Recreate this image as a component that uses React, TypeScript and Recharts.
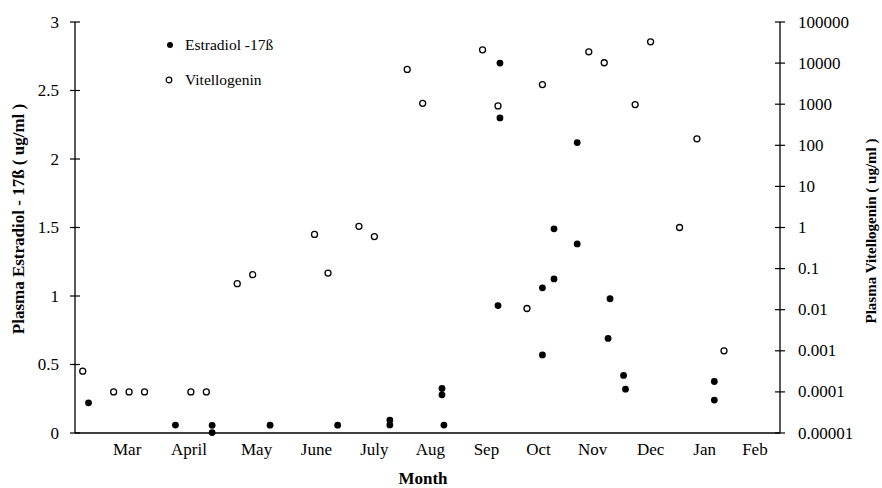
import { Legend, Scatter, ScatterChart, XAxis, YAxis } from 'recharts';

const serif = '"Liberation Serif", "Times New Roman", serif';

// month labels sit at hand-placed positions along the day axis
const monthLabels = ['Mar', 'April', 'May', 'June', 'July', 'Aug', 'Sep', 'Oct', 'Nov', 'Dec', 'Jan', 'Feb'];
const monthTickDays = [27, 59, 94, 125, 155, 184, 213, 240, 268, 298, 326, 352];

const estradiolTicks = [0, 0.5, 1, 1.5, 2, 2.5, 3];
const vitellogeninTicks = [0.00001, 0.0001, 0.001, 0.01, 0.1, 1, 10, 100, 1000, 10000, 100000];

const estradiolDays = [7, 52, 71, 71, 101, 136, 163, 163, 190, 190, 191, 219, 220, 220, 242, 242, 248, 248, 260, 260, 277, 276, 284, 285, 331, 331];
const estradiolValues = [0.22, 0.058, 0.056, 0.003, 0.057, 0.057, 0.094, 0.059, 0.325, 0.279, 0.058, 0.93, 2.7, 2.3, 0.57, 1.06, 1.125, 1.49, 1.38, 2.12, 0.98, 0.69, 0.42, 0.32, 0.376, 0.24];

const vitellogeninDays = [4, 20, 28, 36, 60, 68, 84, 92, 124, 131, 147, 155, 172, 180, 211, 219, 234, 242, 266, 274, 290, 298, 313, 322, 336];
const vitellogeninValues = [0.00032, 0.0001, 0.0001, 0.0001, 0.0001, 0.0001, 0.043, 0.071, 0.68, 0.078, 1.07, 0.6, 7000, 1050, 21000, 910, 0.0107, 3000, 18800, 10200, 980, 33000, 1.0, 144, 0.001];

const estradiol = estradiolDays.map((day, i) => ({ day, value: estradiolValues[i] }));
const vitellogenin = vitellogeninDays.map((day, i) => ({ day, value: vitellogeninValues[i] }));

const LeftTick = ({ x, y, payload }: any) => (
  <g>
    <line x1={x + 11} x2={x + 21} y1={y} y2={y} stroke="#000" strokeWidth={1.2} />
    <text x={x} y={y} textAnchor="end" dominantBaseline="central" fontFamily={serif} fontSize={17} fill="#000">
      {payload.value}
    </text>
  </g>
);

const RightTick = ({ x, y, payload }: any) => (
  <g>
    <line x1={x - 23} x2={x - 13} y1={y} y2={y} stroke="#000" strokeWidth={1.2} />
    <text x={x} y={y} textAnchor="start" dominantBaseline="central" fontFamily={serif} fontSize={17} fill="#000">
      {String(payload.value)}
    </text>
  </g>
);

const FilledDot = ({ cx, cy }: any) => <circle cx={cx} cy={cy} r={3.4} fill="#000" />;
const OpenDot = ({ cx, cy }: any) => <circle cx={cx} cy={cy} r={3} fill="#fff" stroke="#000" strokeWidth={1.3} />;

const legendRow: React.CSSProperties = {
  display: 'flex',
  alignItems: 'center',
  height: 20,
  fontFamily: serif,
  fontSize: 15.5,
  color: '#000',
  whiteSpace: 'nowrap'
};

function LegendBox() {
  return (
    <div>
      <div style={{ ...legendRow, marginBottom: 15 }}>
        <svg width={14} height={14} style={{ marginRight: 8 }}>
          <circle cx={7} cy={7} r={3} fill="#000" />
        </svg>
        Estradiol -17ß
      </div>
      <div style={legendRow}>
        <svg width={14} height={14} style={{ marginRight: 8 }}>
          <circle cx={6} cy={7} r={2.8} fill="#fff" stroke="#000" strokeWidth={1.2} />
        </svg>
        Vitellogenin
      </div>
    </div>
  );
}

export default function App() {
  return (
    <div style={{ position: 'absolute', top: 0, left: 0, background: '#fff' }}>
      <ScatterChart width={882} height={488} margin={{ top: 22, right: 18, bottom: 10, left: 10 }}>
        <XAxis
          type="number"
          dataKey="day"
          domain={[0, 365]}
          ticks={monthTickDays}
          tickFormatter={(d: number) => monthLabels[monthTickDays.indexOf(d)]}
          tickLine={false}
          tickSize={0}
          tickMargin={10}
          height={45}
          axisLine={{ stroke: '#000', strokeWidth: 1.3 }}
          tick={{ fill: '#000', fontSize: 17, fontFamily: serif }}
          label={() => (
            <text x={423} y={478} textAnchor="middle" dominantBaseline="central" fontFamily={serif} fontSize={17} fontWeight="bold" fill="#000">
              Month
            </text>
          )}
        />
        <YAxis
          yAxisId="left"
          type="number"
          dataKey="value"
          domain={[0, 3]}
          ticks={estradiolTicks}
          width={65}
          tickLine={false}
          tickSize={0}
          tickMargin={16}
          axisLine={{ stroke: '#000', strokeWidth: 1.3 }}
          tick={<LeftTick />}
          label={() => (
            <text x={18} y={219} transform="rotate(-90 18 219)" textAnchor="middle" dominantBaseline="central" fontFamily={serif} fontSize={17} fontWeight="bold" fill="#000">
              Plasma Estradiol - 17ß ( ug/ml )
            </text>
          )}
        />
        <YAxis
          yAxisId="right"
          orientation="right"
          type="number"
          dataKey="value"
          scale="log"
          domain={[0.00001, 100000]}
          allowDataOverflow
          ticks={vitellogeninTicks}
          width={84}
          tickLine={false}
          tickSize={0}
          tickMargin={18}
          axisLine={{ stroke: '#000', strokeWidth: 1.3 }}
          tick={<RightTick />}
          label={() => (
            <text x={871} y={231} transform="rotate(-90 871 231)" textAnchor="middle" dominantBaseline="central" fontFamily={serif} fontSize={15} fontWeight="bold" fill="#000">
              Plasma Vitellogenin ( ug/ml )
            </text>
          )}
        />
        <Legend
          layout="horizontal"
          verticalAlign="middle"
          align="center"
          wrapperStyle={{ position: 'absolute', top: 35, left: 163, width: 'auto', height: 'auto' }}
          content={() => <LegendBox />}
        />
        <Scatter name="Estradiol -17ß" yAxisId="left" data={estradiol} shape={<FilledDot />} isAnimationActive={false} />
        <Scatter name="Vitellogenin" yAxisId="right" data={vitellogenin} shape={<OpenDot />} isAnimationActive={false} />
      </ScatterChart>
    </div>
  );
}
